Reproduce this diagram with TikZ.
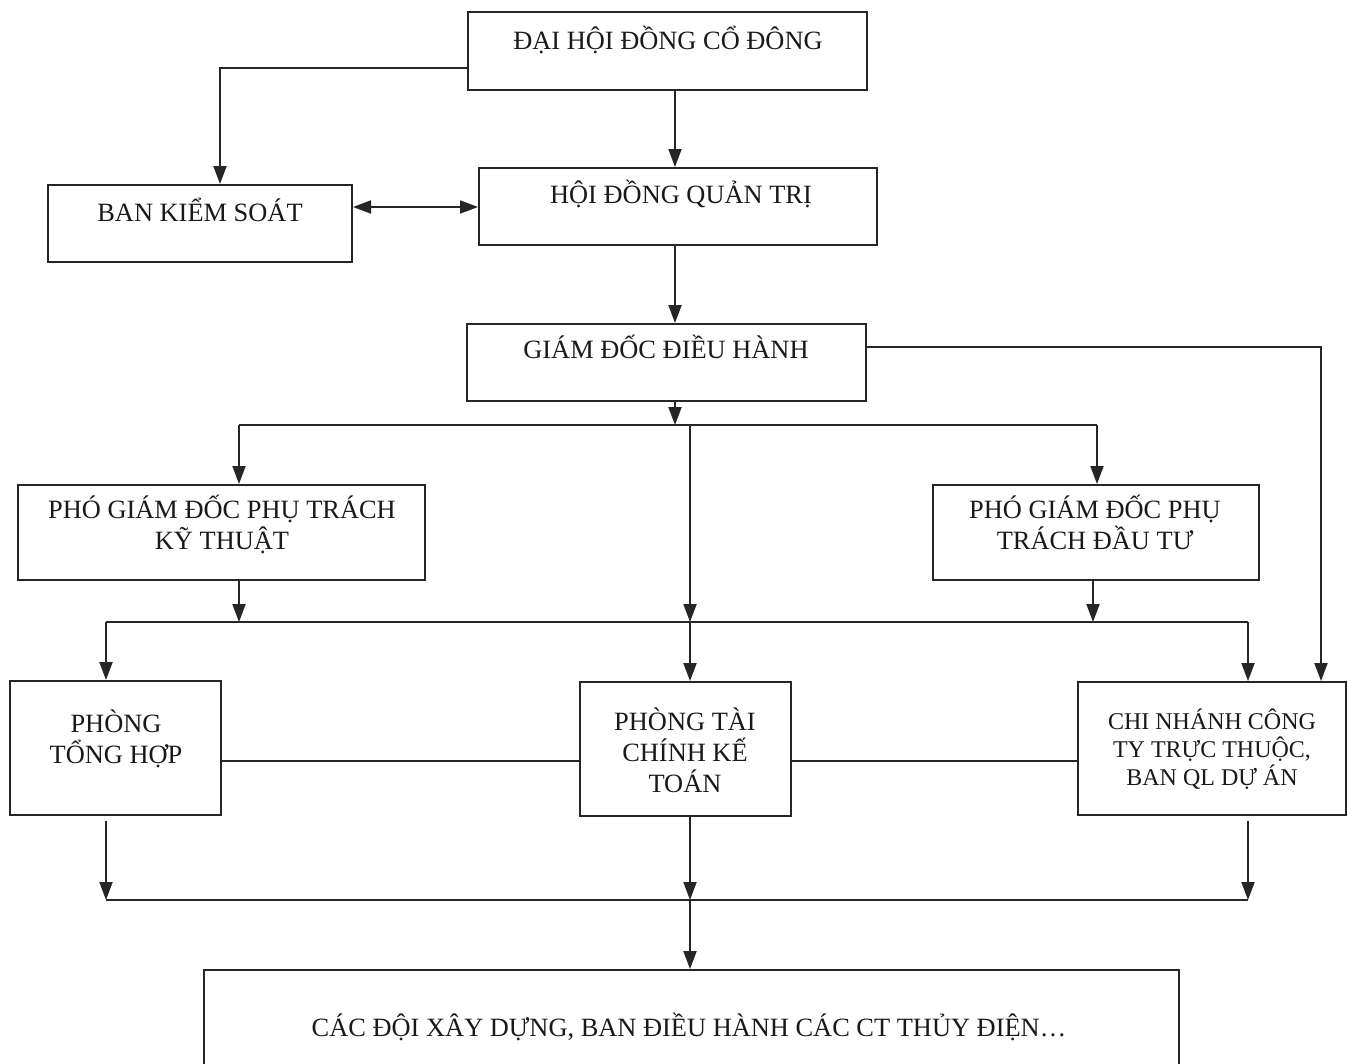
\documentclass[tikz,border=0pt]{standalone}
\usepackage{fontspec}
\setmainfont{Liberation Serif}
\usetikzlibrary{arrows.meta}
\begin{document}
\begin{tikzpicture}[x=1pt,y=-1pt,
  box/.style={draw=black!85, line width=2pt, inner sep=0pt},
  lbl/.style={inner sep=0pt, align=center, font=\fontsize{26.4}{31}\selectfont, text=black!90},
  conn/.style={draw=black!85, line width=2pt},
  arr/.style={conn, -{Triangle[length=18pt,width=13pt]}},
  darr/.style={conn, {Triangle[length=18pt,width=13pt]}-{Triangle[length=18pt,width=13pt]}}]
\useasboundingbox (0,0) rectangle (1354,1063);
\fill[white] (0,0) rectangle (1354,1063);
\clip (0,0) rectangle (1354,1063);

% boxes
\node[box, minimum width=399pt, minimum height=78pt] (dh) at (667.5,51) {};
\node[box, minimum width=398pt, minimum height=77pt] (hd) at (678,206.5) {};
\node[box, minimum width=304pt, minimum height=77pt] (bks) at (200,223.5) {};
\node[box, minimum width=399pt, minimum height=77pt] (gd) at (666.5,362.5) {};
\node[box, minimum width=407pt, minimum height=95pt] (pkt) at (221.5,532.5) {};
\node[box, minimum width=326pt, minimum height=95pt] (pdt) at (1096,532.5) {};
\node[box, minimum width=211pt, minimum height=134pt] (pth) at (115.5,748) {};
\node[box, minimum width=211pt, minimum height=134pt] (ptc) at (685.5,749) {};
\node[box, minimum width=268pt, minimum height=133pt] (cn) at (1212,748.5) {};
\node[box, minimum width=975pt, minimum height=96pt] (cd) at (691.5,1018) {};

% texts (base = baseline of the last line)
\node[lbl, anchor=base] (t-dh) at (668,49) {ĐẠI HỘI ĐỒNG CỔ ĐÔNG};
\node[lbl, anchor=base] (t-hd) at (681,203) {HỘI ĐỒNG QUẢN TRỊ};
\node[lbl, anchor=base] (t-bks) at (200,221) {BAN KIỂM SOÁT};
\node[lbl, anchor=base] (t-gd) at (666,358) {GIÁM ĐỐC ĐIỀU HÀNH};
\node[lbl, anchor=base] (t-pkt) at (222,549) {PHÓ GIÁM ĐỐC PHỤ TRÁCH\\KỸ THUẬT};
\node[lbl, anchor=base] (t-pdt) at (1095,549) {PHÓ GIÁM ĐỐC PHỤ\\TRÁCH ĐẦU TƯ};
\node[lbl, anchor=base] (t-pth) at (116,763) {PHÒNG\\TỔNG HỢP};
\node[lbl, anchor=base] (t-ptc) at (685,792) {PHÒNG TÀI\\CHÍNH KẾ\\TOÁN};
\node[lbl, anchor=base, font=\fontsize{24}{28}\selectfont] (t-cn) at (1212,785) {CHI NHÁNH CÔNG\\TY TRỰC THUỘC,\\BAN QL DỰ ÁN};
\node[lbl, anchor=base] (t-cd) at (689,1036) {CÁC ĐỘI XÂY DỰNG, BAN ĐIỀU HÀNH CÁC CT THỦY ĐIỆN…};

% bus coordinates
\coordinate (b1L) at (239,425);
\coordinate (b1M) at (690,425);
\coordinate (b1R) at (1097,425);
\coordinate (b2L) at (106,622);
\coordinate (b2a) at (239,622);
\coordinate (b2M) at (690,622);
\coordinate (b2b) at (1093,622);
\coordinate (b2R) at (1248,622);
\coordinate (b3L) at (106,900);
\coordinate (b3M) at (690,900);
\coordinate (b3R) at (1248,900);

% connectors
\draw[arr] ([yshift=-17pt]dh.west) -| ([xshift=20pt]bks.north);
\draw[arr] ([xshift=7.5pt]dh.south) -- ([xshift=7.5pt]dh.south |- hd.north);
\draw[darr] ([yshift=16.5pt]bks.east) -- ([yshift=16.5pt]bks.east -| hd.west);
\draw[arr] ([xshift=-3pt]hd.south) -- ([xshift=-3pt]hd.south |- gd.north);
\draw[arr] ([xshift=8.5pt]gd.south) -- ([xshift=8.5pt]gd.south |- b1M);
\draw[conn] (b1L) -- (b1R);
\draw[arr] (b1L) -- (b1L |- pkt.north);
\draw[arr] (b1R) -- (b1R |- pdt.north);
\draw[arr] (b1M) -- (b2M);
\draw[arr] ([yshift=15.5pt]gd.east) -| ([xshift=109pt]cn.north);
\draw[arr] ([xshift=17.5pt]pkt.south) -- (b2a);
\draw[arr] ([xshift=-3pt]pdt.south) -- (b2b);
\draw[conn] (b2L) -- (b2R);
\draw[arr] (b2L) -- (b2L |- pth.north);
\draw[arr] (b2M) -- (b2M |- ptc.north);
\draw[arr] (b2R) -- (b2R |- cn.north);
\draw[conn] ([yshift=-13pt]pth.east) -- ([yshift=-13pt]pth.east -| ptc.west);
\draw[conn] ([yshift=-12pt]ptc.east) -- ([yshift=-12pt]ptc.east -| cn.west);
\draw[arr] ([yshift=-5pt]pth.south -| b3L) -- (b3L);
\draw[arr] (ptc.south -| b3M) -- (b3M);
\draw[arr] ([yshift=-5pt]cn.south -| b3R) -- (b3R);
\draw[conn] (b3L) -- (b3R);
\draw[arr] (b3M) -- (b3M |- cd.north);
\end{tikzpicture}
\end{document}
